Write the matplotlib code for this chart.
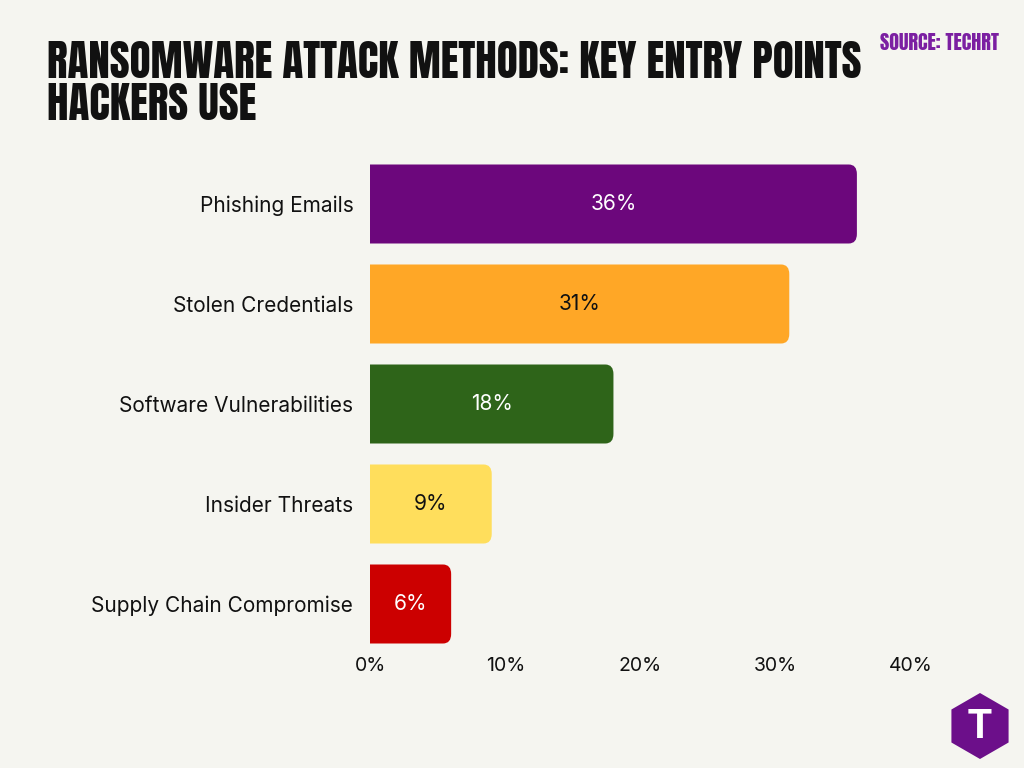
import matplotlib.pyplot as plt
from matplotlib.patches import FancyBboxPatch, RegularPolygon
from matplotlib.font_manager import fontManager

methods = ["Phishing Emails", "Stolen Credentials", "Software Vulnerabilities",
           "Insider Threats", "Supply Chain Compromise"]
shares = [36, 31, 18, 9, 6]
colors = ["#6C077C", "#FFA726", "#2E6419", "#FFDE5C", "#CC0000"]
text_colors = ["white", "#111111", "white", "#111111", "white"]
ticks = [0, 10, 20, 30, 40]

names = {f.name for f in fontManager.ttflist}
title_font = next((f for f in ["Anton", "League Gothic", "Oswald", "Bebas Neue", "Fjalla One"]
                   if f in names), "DejaVu Sans")
body = ["Inter", "DejaVu Sans"]

bg = "#F5F5F0"
fig = plt.figure(figsize=(10.24, 7.68), dpi=100, facecolor=bg)
ax = fig.add_axes([370 / 1024, 1 - 654 / 768, (911 - 370) / 1024, 500 / 768])
ax.set_facecolor(bg)

ax.set_xlim(0, 40)
ax.set_ylim(len(methods) - 0.5, -0.5)

h = 0.79
for i, (v, c, tc) in enumerate(zip(shares, colors, text_colors)):
    # box starts left of 0 so the axes clip hides the left rounded corners
    ax.add_patch(FancyBboxPatch((-3, i - h / 2), v + 3, h,
                                boxstyle="round,pad=0,rounding_size=0.6",
                                mutation_aspect=0.16, fc=c, ec="none"))
    ax.text(v / 2, i, f"{v}%", ha="center", va="center", color=tc,
            fontsize=15, family=body)

ax.set_yticks(range(len(methods)))
ax.set_yticklabels(methods, fontsize=15, family=body, color="#111111")
ax.set_xticks(ticks)
ax.set_xticklabels([f"{t}%" for t in ticks], fontsize=14, family=body, color="#111111")
ax.tick_params(length=0)
ax.tick_params(axis="y", pad=12)
ax.tick_params(axis="x", pad=2)
for s in ax.spines.values():
    s.set_visible(False)

fig.text(47 / 1024, 1 - 41 / 768, "RANSOMWARE ATTACK METHODS: KEY ENTRY POINTS\nHACKERS USE",
         ha="left", va="top", fontsize=31, family=title_font,
         color="#111111", linespacing=1.0)
fig.text(999 / 1024, 1 - 42 / 768, "SOURCE: TECHRT", ha="right", va="center",
         fontsize=14.5, family=title_font, color="#7B1FA2")

# logo in its own small axes so the hexagon keeps its shape
lax = fig.add_axes([946 / 1024, 1 - 760 / 768, 68 / 1024, 68 / 768])
lax.set_xlim(0, 68)
lax.set_ylim(0, 68)
lax.axis("off")
lax.add_patch(RegularPolygon((34, 34), 6, radius=33, orientation=0,
                             fc="#6C0F8A", ec="none"))
lax.text(34, 33, "T", ha="center", va="center", fontsize=28, fontweight="bold",
         color="white", family=body)

fig.savefig("out.png", dpi=100, facecolor=bg)
